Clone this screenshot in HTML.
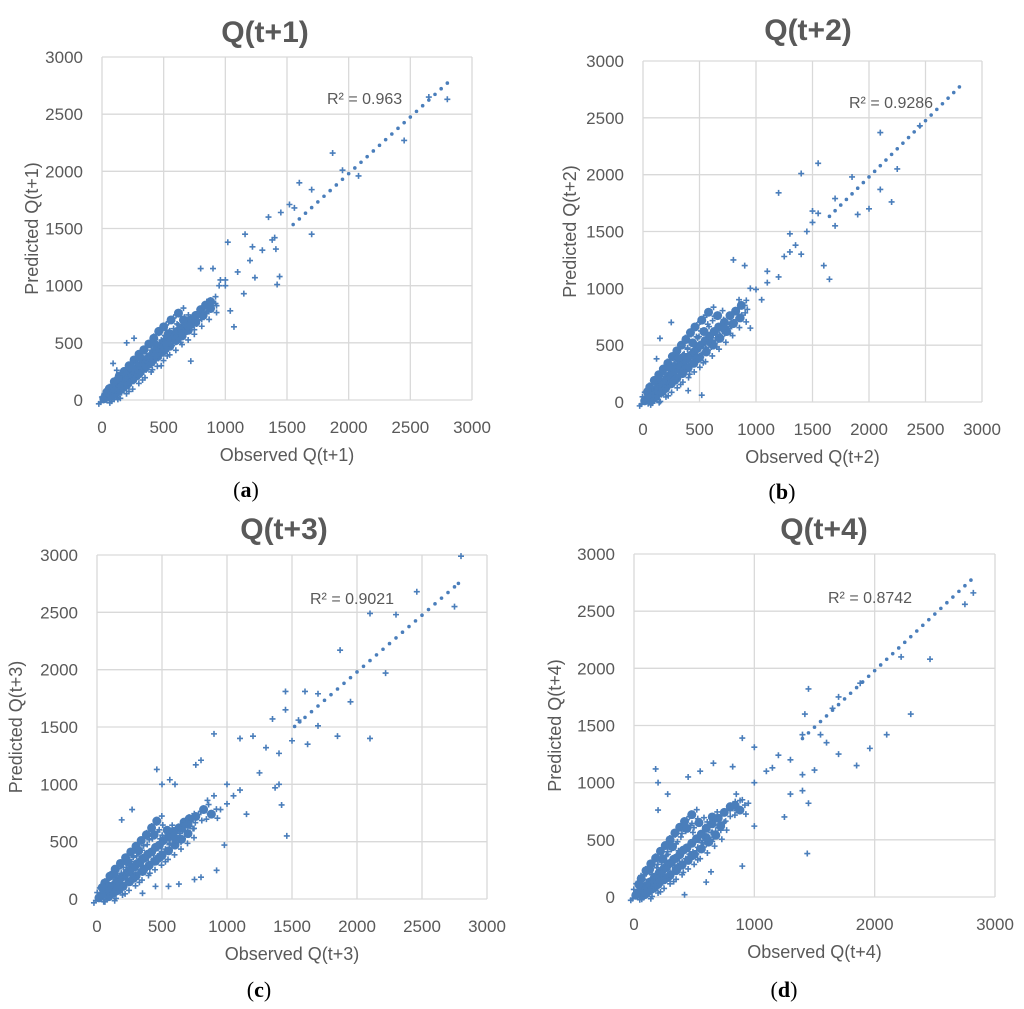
<!DOCTYPE html>
<html><head><meta charset="utf-8"><style>
body{margin:0;background:#fff;}
svg{display:block;font-family:"Liberation Sans",sans-serif;}
</style></head><body>
<svg id="fig" width="1024" height="1009" viewBox="0 0 1024 1009"></svg>
<script>
// ---- data ----
const ticksA=[0,500,1000,1500,2000,2500,3000];
const ticksD=[0,1000,2000,3000];
const yTicks=[0,500,1000,1500,2000,2500,3000];
const clusterA=[[15,10],[30,25],[50,40],[70,60],[90,85],[110,100],[130,120],[150,140],[170,165],[190,180],[210,200],[230,225],[250,240],[270,260],[290,280],[310,300],[330,320],[350,345],[370,360],[390,380],[410,400],[430,420],[460,450],[490,480],[520,510],[550,540],[580,570],[610,600],[640,630],[680,670],[720,700],[760,740],[800,790],[840,830],[880,860],[60,100],[100,160],[140,210],[180,250],[220,300],[260,350],[300,400],[340,440],[380,490],[420,540],[460,600],[500,640],[560,700],[620,760],[100,50],[150,90],[200,130],[250,180],[300,230],[350,280],[400,330],[450,380],[500,430],[550,470],[600,520],[650,560],[700,610],[760,680],[820,740],[880,800],[40,70],[80,40],[130,180],[170,110],[240,280],[280,210],[320,360],[360,300],[440,480],[480,420],[540,580],[590,540],[660,700],[700,650]];
const outA=[[200,500],[260,540],[90,320],[120,260],[720,340],[480,300],[800,1150],[900,1150],[1020,1380],[1070,640],[1150,930],[1160,1450],[1220,1340],[1240,1070],[1350,1600],[1420,1010],[1440,1080],[1450,1640],[1600,1900],[1700,1840],[1700,1450],[1870,2160],[1950,2010],[2080,1960],[2450,2270],[2800,2630],[2650,2650],[1000,1050],[1100,1120],[1200,1220],[1300,1310],[1400,1420],[1520,1710],[1560,1680],[1410,1320],[1380,1400],[960,1050],[1040,780],[1000,1000],[900,850],[950,1000],[850,860]];
const diagA=[1550,1600,1650,1700,1750,1800,1850,1900,1950,2000,2050,2100,2150,2200,2250,2300,2350,2400,2450,2500,2550,2600,2650,2700,2750,2800];
const clusterB=[[15,10],[30,25],[50,45],[70,60],[90,90],[110,100],[130,125],[150,140],[170,170],[190,180],[210,205],[230,220],[250,245],[270,260],[290,285],[310,300],[330,330],[350,340],[370,370],[390,380],[420,410],[450,440],[480,470],[510,500],[550,540],[590,580],[630,620],[670,660],[720,700],[770,760],[820,800],[870,850],[60,130],[100,190],[140,240],[180,290],[220,340],[260,400],[300,450],[340,500],[380,550],[420,610],[460,660],[520,720],[580,790],[100,40],[150,80],[200,120],[250,160],[300,210],[350,250],[400,300],[450,340],[500,390],[560,440],[620,500],[680,560],[740,620],[800,690],[860,740],[40,90],[90,30],[130,200],[170,90],[240,300],[280,190],[320,380],[360,280],[440,520],[480,380],[540,620],[600,520],[660,760],[720,640]];
const outB=[[150,560],[250,700],[120,380],[400,100],[520,60],[800,1250],[900,1200],[950,650],[1100,1150],[1200,1840],[1300,1320],[1400,2010],[1500,1680],[1550,2100],[1550,1660],[1600,1200],[1650,1080],[1700,1790],[1850,1980],[1900,1650],[2100,2370],[2200,1760],[2250,2050],[2450,2430],[1300,1480],[1450,1500],[1000,990],[1100,1050],[1050,900],[1200,1100],[1250,1280],[1350,1380],[1400,1300],[1500,1580],[1700,1550],[2100,1870],[2000,1700],[950,1000],[900,850],[850,900]];
const diagB=[1650,1700,1750,1800,1850,1900,1950,2000,2050,2100,2150,2200,2250,2300,2350,2400,2450,2500,2550,2600,2650,2700,2750,2800];
const clusterC=[[15,10],[30,30],[50,45],[70,70],[90,80],[110,110],[130,120],[150,150],[170,160],[190,190],[210,200],[230,230],[250,240],[270,270],[290,280],[310,310],[330,320],[350,350],[370,360],[390,390],[420,410],[450,450],[480,470],[510,510],[550,540],[590,590],[630,620],[670,670],[710,700],[60,140],[100,200],[140,260],[180,310],[220,360],[260,410],[300,460],[340,510],[380,560],[420,620],[460,680],[100,40],[150,70],[200,110],[250,150],[300,200],[350,240],[400,290],[450,330],[500,380],[550,420],[600,470],[650,520],[700,570],[40,100],[90,20],[130,220],[170,80],[240,320],[280,180],[320,420],[360,260],[440,560],[480,360],[540,600],[600,530],[650,620],[700,650],[760,720],[820,780],[880,740]];
const outC=[[190,690],[270,780],[460,1130],[500,1000],[560,1040],[600,1000],[350,50],[450,110],[550,110],[630,130],[750,170],[800,190],[920,250],[980,470],[760,1170],[800,1210],[900,1440],[1100,1400],[1200,1420],[1150,740],[1350,1570],[1370,970],[1400,1000],[1420,820],[1450,1810],[1450,1650],[1460,550],[1600,1810],[1620,1350],[1700,1790],[1700,1510],[1850,1420],[1870,2170],[1950,1720],[2100,2490],[2100,1400],[2220,1970],[2300,2480],[2460,2680],[2800,2990],[2750,2550],[1000,1000],[1100,950],[1250,1100],[1300,1320],[1400,1270],[1500,1380],[1550,1560],[1000,830],[1050,900],[900,900],[950,780],[850,860]];
const diagC=[1520,1560,1600,1650,1700,1750,1800,1850,1900,1950,2000,2050,2100,2150,2200,2250,2300,2350,2400,2450,2500,2550,2600,2650,2700,2750,2780];
const clusterD=[[15,15],[30,30],[50,50],[70,60],[90,90],[110,100],[130,130],[150,140],[170,170],[190,180],[210,210],[230,220],[250,250],[270,260],[290,290],[310,300],[330,330],[350,340],[380,370],[410,410],[440,430],[480,470],[520,510],[560,550],[600,600],[650,640],[700,690],[750,740],[800,790],[60,160],[100,230],[140,290],[180,340],[220,400],[260,450],[300,500],[340,560],[380,610],[420,660],[480,720],[100,40],[150,70],[200,110],[250,150],[300,190],[350,230],[400,280],[450,320],[500,370],[560,420],[620,480],[680,540],[40,110],[90,20],[130,240],[170,80],[240,330],[280,170],[320,440],[360,250],[440,600],[480,360],[540,650],[600,520],[650,700],[720,620],[840,800],[880,760]];
const outD=[[180,1120],[200,1000],[200,760],[280,900],[450,1050],[550,1100],[420,20],[600,130],[640,220],[900,270],[660,1170],[820,1140],[900,1390],[1000,1310],[1000,620],[1250,700],[1300,900],[1400,1420],[1450,1820],[1420,1600],[1450,820],[1440,380],[1500,1110],[1550,1420],[1600,1350],[1650,1650],[1700,1750],[1700,1250],[1850,1150],[1880,1870],[1960,1300],[2100,1420],[2220,2100],[2300,1600],[2460,2080],[2750,2560],[2820,2660],[1000,1000],[1100,1100],[1150,1130],[1200,1240],[1300,1200],[1400,1070],[1400,930],[900,850],[950,820],[850,900]];
const diagD=[1400,1450,1500,1550,1600,1650,1700,1750,1800,1850,1900,1950,2000,2050,2100,2150,2200,2250,2300,2350,2400,2450,2500,2550,2600,2650,2700,2750,2800];

const NS="http://www.w3.org/2000/svg";
const fig=document.getElementById('fig');
function mk(tag,attrs,parent){const e=document.createElementNS(NS,tag);for(const k in attrs)e.setAttribute(k,attrs[k]);(parent||fig).appendChild(e);return e;}
function txt(s,attrs,parent){const e=mk('text',attrs,parent);e.textContent=s;return e;}

function panel(p){
  const g=mk('g',{});
  
  
  const sx=v=>p.x0+(p.x1-p.x0)*v/3000;
  const sy=v=>p.y0-(p.y0-p.y1)*v/3000;
  p.xt.forEach(t=>{const l=mk('line',{x1:sx(t),x2:sx(t),y1:p.y0,y2:p.y1,stroke:'#d9d9d9','stroke-width':1.3},g);
    
    const tl=txt(t,{x:sx(t),y:p.y0+33,'text-anchor':'middle','font-size':17,fill:'#595959'},g);
    });
  yTicks.forEach(t=>{const l=mk('line',{x1:p.x0,x2:p.x1,y1:sy(t),y2:sy(t),stroke:'#d9d9d9','stroke-width':1.3},g);
    
    const tl=txt(t,{x:p.x0-19,y:sy(t)+6,'text-anchor':'end','font-size':17,fill:'#595959'},g);
    });
  const col='#4a7ebb';
  p.cluster.forEach(d=>{const c=mk('circle',{cx:sx(d[0]),cy:sy(d[1]),r:4.5,fill:col},g);
    });
  const cross=(x,y)=>{const e=mk('path',{d:`M${x-3},${y}h6M${x},${y-3}v6`,stroke:col,'stroke-width':1.6},g);
    };
  p.cluster.forEach(d=>{cross(sx(d[0])+5,sy(d[1])-5);cross(sx(d[0])-5,sy(d[1])+5);cross(sx(d[0])+6,sy(d[1])+4);});
  p.out.forEach(d=>cross(sx(d[0]),sy(d[1])));
  p.diag.forEach(v=>{const c=mk('circle',{cx:sx(v),cy:sy(v*0.99),r:1.8,fill:col},g);
    });
  let e=txt(p.title,{x:p.tx,y:p.ty,'text-anchor':'middle','font-size':30,'font-weight':'bold',fill:'#595959'},g);
  
  e=txt('R² = '+p.r2,{x:p.rx,y:p.ry,'font-size':16,fill:'#595959'},g);
  
  e=txt('Observed '+p.q,{x:(p.x0+p.x1)/2,y:p.y0+61,'text-anchor':'middle','font-size':18,fill:'#595959'},g);
  
  const ym=(p.y0+p.y1)/2;
  e=txt('Predicted '+p.q,{x:p.yx,y:ym,'text-anchor':'middle','font-size':18,fill:'#595959',transform:`rotate(-90 ${p.yx} ${ym})`},g);
  
  e=mk('text',{x:p.lx,y:p.ly,'text-anchor':'middle','font-size':22,fill:'#000','font-family':'"Liberation Serif",serif'},g);
  e.innerHTML='(<tspan font-weight="bold">'+p.id+'</tspan>)';
  
}
panel({id:'a',title:'Q(t+1)',q:'Q(t+1)',r2:'0.963',x0:102,x1:472,y0:400,y1:57,xt:ticksA,cluster:clusterA,out:outA,diag:diagA,tx:265,ty:42,rx:327,ry:104,yx:38,lx:246,ly:497});
panel({id:'b',title:'Q(t+2)',q:'Q(t+2)',r2:'0.9286',x0:643,x1:982,y0:402,y1:61,xt:ticksA,cluster:clusterB,out:outB,diag:diagB,tx:808,ty:40,rx:849,ry:108,yx:576,lx:782,ly:499});
panel({id:'c',title:'Q(t+3)',q:'Q(t+3)',r2:'0.9021',x0:97,x1:487,y0:899,y1:555,xt:ticksA,cluster:clusterC,out:outC,diag:diagC,tx:284,ty:539,rx:310,ry:604,yx:22,lx:259,ly:997});
panel({id:'d',title:'Q(t+4)',q:'Q(t+4)',r2:'0.8742',x0:634,x1:995,y0:897,y1:554,xt:ticksD,cluster:clusterD,out:outD,diag:diagD,tx:824,ty:539,rx:828,ry:603,yx:561,lx:784,ly:997});
</script>
</body></html>
